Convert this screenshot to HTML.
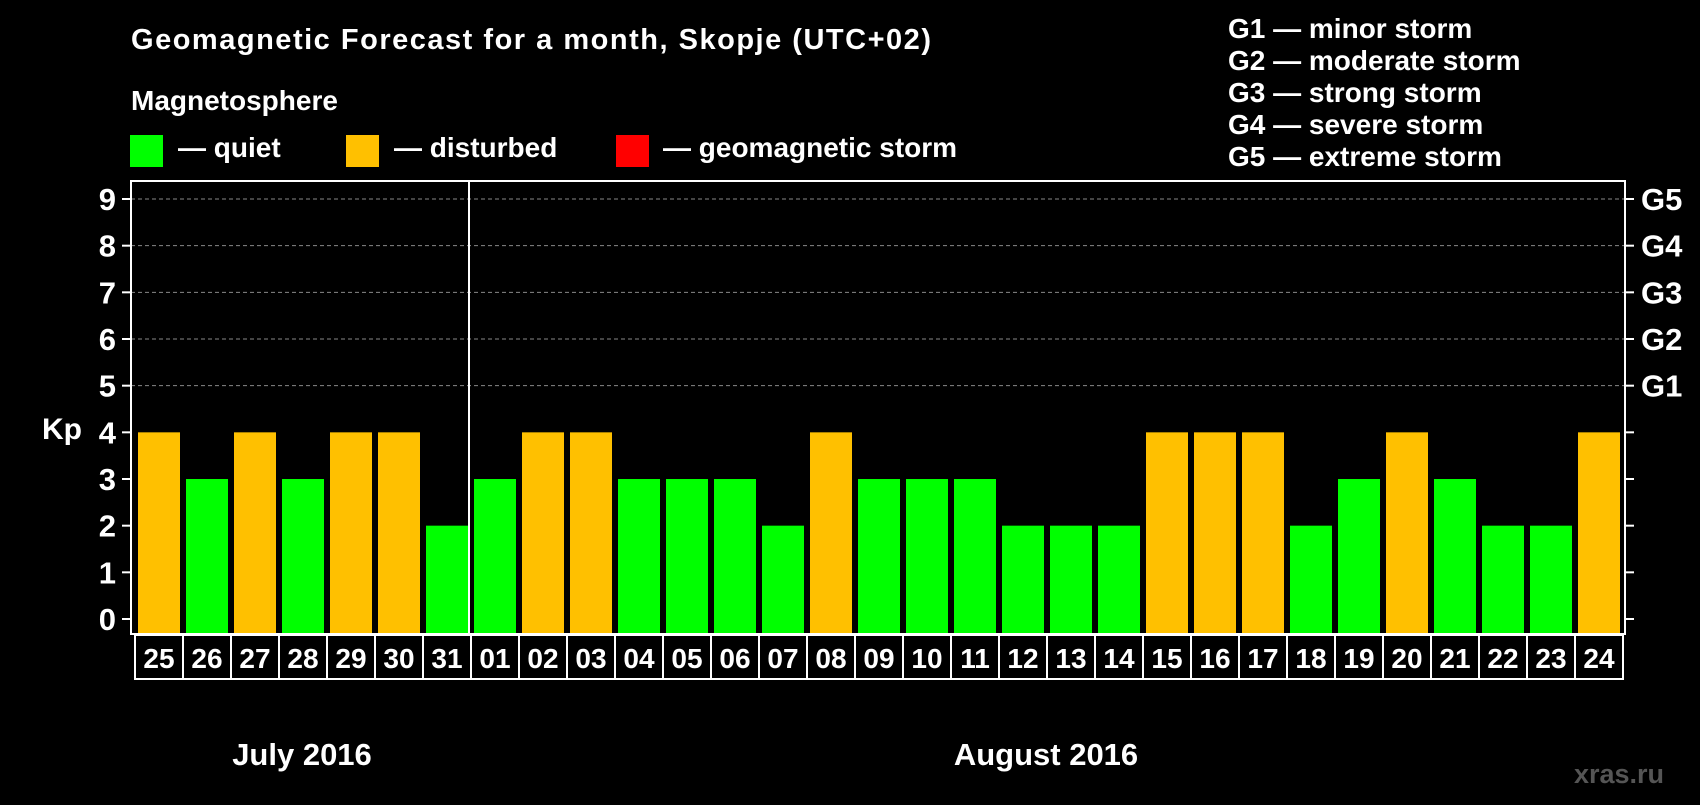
<!DOCTYPE html>
<html><head><meta charset="utf-8"><style>
body{margin:0;background:#000;width:1700px;height:800px;overflow:hidden;font-family:"Liberation Sans",Arial,sans-serif;}
svg text{font-family:"Liberation Sans",Arial,sans-serif;font-weight:bold;fill:#fff;}
</style></head><body>
<svg id="chart" width="1700" height="800" viewBox="0 0 1700 800">
<text x="131" y="49" font-size="29" textLength="800" lengthAdjust="spacing">Geomagnetic Forecast for a month, Skopje (UTC+02)</text>
<text x="131" y="110" font-size="28">Magnetosphere</text>
<rect x="130" y="135" width="33" height="32" fill="#00ff00"/>
<text x="178" y="157" font-size="28">— quiet</text>
<rect x="346" y="135" width="33" height="32" fill="#ffc000"/>
<text x="394" y="157" font-size="28">— disturbed</text>
<rect x="616" y="135" width="33" height="32" fill="#ff0000"/>
<text x="663" y="157" font-size="28">— geomagnetic storm</text>
<g font-size="28">
<text x="1228" y="38">G1 — minor storm</text>
<text x="1228" y="70">G2 — moderate storm</text>
<text x="1228" y="102">G3 — strong storm</text>
<text x="1228" y="134">G4 — severe storm</text>
<text x="1228" y="166">G5 — extreme storm</text>
</g>
<text x="62" y="439" font-size="30" text-anchor="middle">Kp</text>
<g id="grid"></g><g id="bars"></g><g id="axes"></g>
<text x="302" y="765" font-size="31" text-anchor="middle">July 2016</text>
<text x="1046" y="765" font-size="31" text-anchor="middle">August 2016</text>
<text x="1664" y="783" font-size="27" text-anchor="end" style="fill:#555">xras.ru</text>
</svg>
<script>
const days=["25","26","27","28","29","30","31","01","02","03","04","05","06","07","08","09","10","11","12","13","14","15","16","17","18","19","20","21","22","23","24"];
const kp=[4,3,4,3,4,4,2,3,4,4,3,3,3,2,4,3,3,3,2,2,2,4,4,4,2,3,4,3,2,2,4];
const yTicks=[0,1,2,3,4,5,6,7,8,9];
const gLabels=["G1","G2","G3","G4","G5"];
const gLevels=[5,6,7,8,9];
const monthBreak=7;
const NS="http://www.w3.org/2000/svg";
const L=131,R=1625,T=181,B=634,slot0=135,slotW=48;
const y=v=>619-v*(420/9);
const x=i=>slot0+i*slotW;
function mk(tag,attrs,parent){const e=document.createElementNS(NS,tag);for(const k in attrs)e.setAttribute(k,attrs[k]);parent.appendChild(e);return e;}
const grid=document.getElementById('grid'),bars=document.getElementById('bars'),axes=document.getElementById('axes');
yTicks.forEach(v=>{
 if(v>=5){const l=mk('line',{x1:L,x2:R,y1:y(v),y2:y(v),stroke:'#888','stroke-dasharray':'4,3','stroke-width':1},grid);
 
 }
 const t=mk('line',{x1:122,x2:L,y1:y(v),y2:y(v),stroke:'#fff','stroke-width':2},axes);
 
 
 const t2=mk('line',{x1:R,x2:R+9,y1:y(v),y2:y(v),stroke:'#fff','stroke-width':2},axes);
 
 
 const tx=mk('text',{x:116,y:y(v)+11,'font-size':31,'text-anchor':'end'},axes);tx.textContent=v;
 
 
});
gLabels.forEach((g,i)=>{const tx=mk('text',{x:1641,y:y(gLevels[i])+11,'font-size':31},axes);tx.textContent=g;
 
 });
kp.forEach((v,i)=>{
 const c=v>=5?'#ff0000':(v>=4?'#ffc000':'#00ff00');
 const r=mk('rect',{x:x(i)+3,y:y(v),width:42,height:B-y(v),fill:c},bars);
 
 
 const b=mk('rect',{x:x(i),y:B+1,width:slotW,height:44,fill:'none',stroke:'#fff','stroke-width':2},axes);
 
 
 const tx=mk('text',{x:x(i)+slotW/2,y:B+34,'font-size':28,'text-anchor':'middle'},axes);tx.textContent=days[i];
 
 
});
const fr=mk('rect',{x:L,y:T,width:R-L,height:B-T,fill:'none',stroke:'#fff','stroke-width':2},axes);


const mx=x(monthBreak)-2;
const ml=mk('line',{x1:mx,x2:mx,y1:T,y2:B,stroke:'#fff','stroke-width':2},axes);


</script>
</body></html>
